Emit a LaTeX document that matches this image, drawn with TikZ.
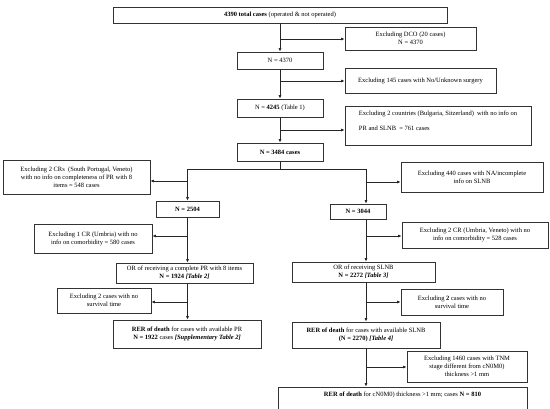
\documentclass[tikz,border=0pt]{standalone}
\usepackage{fontspec}
\setmainfont{Liberation Serif}
\usetikzlibrary{arrows.meta}
\tikzset{
  box/.style={draw=black!80, line width=0.7pt, fill=white, inner sep=1pt, align=center,
    font=\fontsize{6.5}{8}\selectfont},
  conn/.style={line width=0.7pt, draw=black!85},
  arr/.style={conn, -{Latex[length=3.5pt,width=3pt]}}
}
\begin{document}
\begin{tikzpicture}[x=1pt,y=-1pt]
\useasboundingbox (0,0) rectangle (550,409);
\clip (0,0) rectangle (550,409);
% row of main column
\node[box, minimum width=334, minimum height=16] (top) at (280,15) {\textbf{4390 total cases} (operated \& not operated)};
\node[box, minimum width=131, minimum height=23] (dco) at (410.5,38.5) {Excluding DCO (20 cases)\\N = 4370};
\node[box, minimum width=86, minimum height=17] (n4370) at (280,60.5) {N = 4370};
\node[box, minimum width=151, minimum height=25, align=left] (ex145) at (420.5,80.5) {Excluding 145 cases with No/Unknown surgery};
\node[box, minimum width=86, minimum height=18] (n4245) at (280,108) {N = \textbf{4245} (Table 1)};
\node[box, minimum width=186, minimum height=39, align=left] (excountries) at (438,125.5) {Excluding 2 countries (Bulgaria, Sitzerland)\ \ with no info on\\[7pt]PR and SLNB\ \ = 761 cases\\[2pt]\mbox{}};
\node[box, minimum width=86, minimum height=18] (n3484) at (280,152) {\textbf{N = 3484 cases}};
% split
\coordinate (splitM) at (280,169);
\coordinate (splitL) at (187.5,169);
\coordinate (splitR) at (366,169);
\node[box, minimum width=147, minimum height=34] (exCRs) at (76.5,177) {Excluding 2 CRs\ \ (South Portugal, Veneto)\\with no info on completeness of PR with 8\\items = 548 cases};
\node[box, minimum width=142, minimum height=30] (ex440) at (472,177) {Excluding 440 cases with NA/incomplete\\info on SLNB};
\node[box, minimum width=63, minimum height=16] (n2504) at (187.5,209) {\textbf{N = 2504}};
\node[box, minimum width=56, minimum height=15] (n3044) at (358,211.5) {\textbf{N = 3044}};
\node[box, minimum width=118, minimum height=29] (exUmbria) at (93,238.5) {Excluding 1 CR (Umbria) with no\\info on comorbidity = 580 cases};
\node[box, minimum width=146, minimum height=26] (exUV) at (475,235) {Excluding 2 CR (Umbria, Veneto) with no\\info on comorbidity = 528 cases};
\node[box, minimum width=137, minimum height=20] (orPR) at (184.5,273) {OR of receiving a complete PR with 8 items\\\textbf{N = 1924 \textit{[Table 2]}}};
\node[box, minimum width=143, minimum height=20] (orSLNB) at (363.5,272) {OR of receiving SLNB\\\textbf{N = 2272 \textit{[Table 3]}}};
\node[box, minimum width=94, minimum height=25] (exNoL) at (104,300.5) {Excluding 2 cases with no\\survival time};
\node[box, minimum width=102, minimum height=26] (exNoR) at (452,302) {Excluding \textbf{2} cases with no\\survival time};
\node[box, minimum width=148, minimum height=28] (rerL) at (187,334) {\textbf{RER of death} for cases with available PR\\\textbf{N = 1922} cases \textbf{\textit{[Supplementary Table 2]}}};
\node[box, minimum width=148, minimum height=26] (rerR) at (366,335) {\textbf{RER of death} for cases with available SLNB\\\textbf{(N = 2270) \textit{[Table 4]}}};
\node[box, minimum width=120, minimum height=31] (ex1460) at (467,366.5) {Excluding 1460 cases with TNM\\stage different from cN0M0)\\thickness >1 mm};
\node[box, minimum width=249, minimum height=28] (final) at (402.5,401) {\textbf{RER of death} for cN0M0) thickness >1 mm; cases \textbf{N = 810}\\[6pt]\mbox{}};
% main column connectors
\draw[arr] (top.south) -- (n4370.north);
\draw[arr] (280,39) coordinate (b1) -- (dco.west |- b1);
\draw[arr] (n4370.south) -- (n4245.north);
\draw[arr] (280,81) coordinate (b2) -- (ex145.west |- b2);
\draw[arr] (n4245.south) -- (n3484.north);
\draw[arr] (280,130) coordinate (b3) -- (excountries.west |- b3);
\draw[conn] (n3484.south) -- (splitM);
\draw[conn] (splitL) -- (splitR);
\draw[arr] (splitL) -- (n2504.north -| splitL);
\draw[arr] (splitR) -- (n3044.north -| splitR);
\draw[arr] (187.5,181) coordinate (b4) -- (exCRs.east |- b4);
\draw[arr] (366,182) coordinate (b5) -- (ex440.west |- b5);
% left column
\draw[arr] (n2504.south) -- (n2504.south |- orPR.north);
\draw[arr] (187.5,236) coordinate (b6) -- (exUmbria.east |- b6);
\draw[arr] (orPR.south -| n2504.south) -- (rerL.north -| n2504.south);
\draw[arr] (187.5,302) coordinate (b7) -- (exNoL.east |- b7);
% right column
\draw[arr] (n3044.south -| splitR) -- (orSLNB.north -| splitR);
\draw[arr] (366,236) coordinate (b8) -- (exUV.west |- b8);
\draw[arr] (orSLNB.south -| splitR) -- (rerR.north -| splitR);
\draw[arr] (366,302) coordinate (b9) -- (exNoR.west |- b9);
\draw[arr] (rerR.south) -- (final.north -| rerR.south);
\draw[arr] (366,367) coordinate (b10) -- (ex1460.west |- b10);
\end{tikzpicture}
\end{document}
